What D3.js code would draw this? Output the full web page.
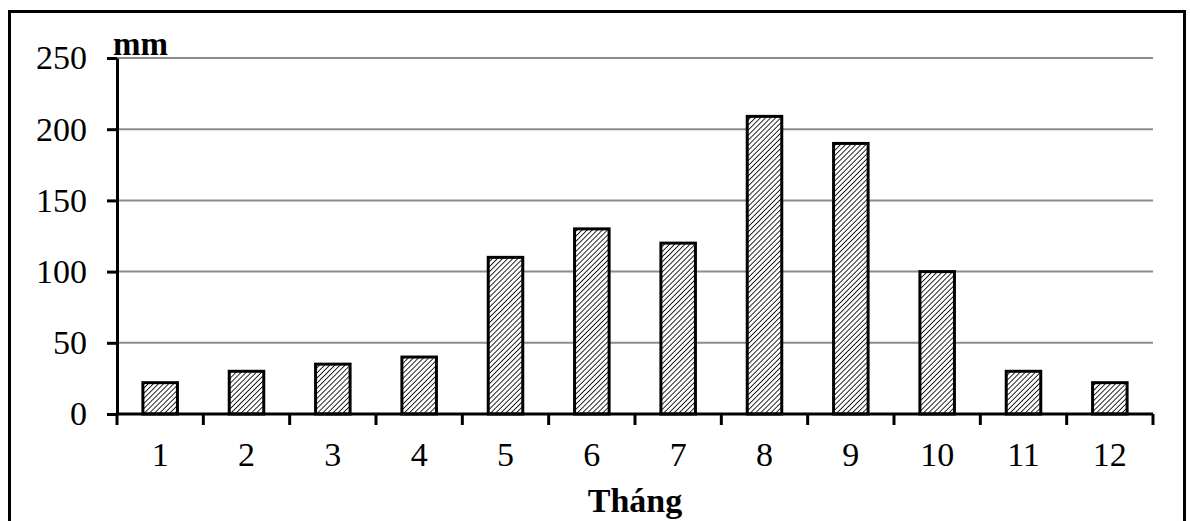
<!DOCTYPE html>
<html>
<head>
<meta charset="utf-8">
<script src="https://cdn.jsdelivr.net/npm/d3@7"></script>
<style>
  body { margin: 0; background: #fff; }
  text { font-family: "Liberation Serif", "Times New Roman", serif; }
</style>
</head>
<body>
<div id="chart"></div>
<script>
// monthly rainfall (mm)
const months = ['1', '2', '3', '4', '5', '6', '7', '8', '9', '10', '11', '12']
const rain = [22, 30, 35, 40, 110, 130, 120, 209, 190, 100, 30, 22]
const yTicks = [0, 50, 100, 150, 200, 250]

const W = 1190, H = 521
const margin = {top: 58, right: 37, bottom: 107, left: 117}
const width = W - margin.left - margin.right
const height = H - margin.top - margin.bottom

const svg = d3.select('#chart').append('svg')
  .attr('width', W)
  .attr('height', H)

// diagonal hatch for the bars
const pat = svg.append('defs').append('pattern')
  .attr('id', 'hatch')
  .attr('patternUnits', 'userSpaceOnUse')
  .attr('width', 3.6)
  .attr('height', 3.6)
  .attr('patternTransform', 'rotate(45)')
pat.append('rect').attr('width', 3.6).attr('height', 3.6).attr('fill', '#fff')
pat.append('line')
  .attr('x1', 0).attr('y1', 0).attr('x2', 0).attr('y2', 3.6)
  .attr('stroke', '#111').attr('stroke-width', 1.8)

// outer frame
svg.append('rect')
  .attr('x', 9.5).attr('y', 11.5)
  .attr('width', 1175).attr('height', 540)
  .attr('fill', 'none').attr('stroke', '#000').attr('stroke-width', 3)

const g = svg.append('g')
  .attr('transform', 'translate(' + margin.left + ',' + margin.top + ')')

const x = d3.scaleBand().domain(months).range([0, width]).paddingInner(0.6).paddingOuter(0.3)
const xb = d3.scaleBand().domain(months).range([0, width])
const y = d3.scaleLinear().domain([0, 250]).range([height, 0])

// gridlines
g.selectAll('.grid')
  .data(yTicks.filter(d => d > 0))
  .enter().append('line')
  .attr('x1', 0).attr('x2', width)
  .attr('y1', d => y(d)).attr('y2', d => y(d))
  .attr('stroke', '#8c8c8c').attr('stroke-width', 2)

// bars
g.selectAll('.bar')
  .data(rain)
  .enter().append('rect')
  .attr('x', (d, i) => x(months[i]))
  .attr('width', x.bandwidth())
  .attr('y', d => y(d))
  .attr('height', d => height - y(d))
  .attr('fill', 'url(#hatch)')
  .attr('stroke', '#000').attr('stroke-width', 3)

// y axis
const yAxis = g.append('g')
  .call(d3.axisLeft(y).tickValues(yTicks).tickSize(10).tickSizeOuter(0).tickPadding(20))
yAxis.select('.domain').attr('stroke-width', 3)
yAxis.selectAll('.tick line').attr('stroke-width', 3)
yAxis.selectAll('text').attr('font-size', 34).attr('font-family', 'Liberation Serif').attr('fill', '#000')

// x axis: ticks sit on the band edges
const xAxis = g.append('g')
  .attr('transform', 'translate(0,' + height + ')')
xAxis.append('line')
  .attr('x1', 0).attr('x2', width)
  .attr('stroke', '#000').attr('stroke-width', 3)
xAxis.selectAll('.edge')
  .data(months.concat(['end']))
  .enter().append('line')
  .attr('x1', (d, i) => i * xb.bandwidth())
  .attr('x2', (d, i) => i * xb.bandwidth())
  .attr('y1', 0).attr('y2', 11)
  .attr('stroke', '#000').attr('stroke-width', 3)
xAxis.selectAll('.lbl')
  .data(months)
  .enter().append('text')
  .attr('x', d => xb(d) + xb.bandwidth() / 2)
  .attr('y', 52)
  .attr('text-anchor', 'middle')
  .attr('font-size', 34)
  .text(d => d)

// axis titles
svg.append('text')
  .attr('x', margin.left - 4).attr('y', 55)
  .attr('font-size', 33).attr('font-weight', 'bold')
  .text('mm')
svg.append('text')
  .attr('x', margin.left + width / 2).attr('y', 512)
  .attr('text-anchor', 'middle')
  .attr('font-size', 34).attr('font-weight', 'bold')
  .text('Tháng')
</script>
</body>
</html>
